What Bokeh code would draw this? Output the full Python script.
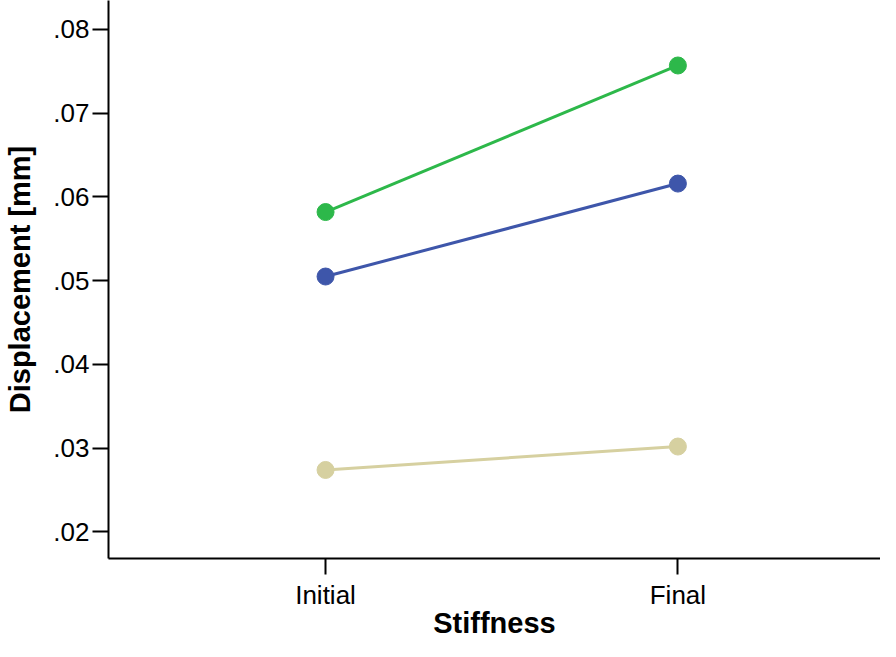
from bokeh.plotting import figure
from bokeh.models import Range1d, FixedTicker, CustomJSTickFormatter
from bokeh.embed import file_html
from bokeh.resources import INLINE

stages = ["Initial", "Final"]
series_green = [0.0582, 0.0757]
series_blue = [0.0505, 0.0616]
series_tan = [0.0274, 0.0302]
y_ticks = [0.02, 0.03, 0.04, 0.05, 0.06, 0.07, 0.08]

colors = {"green": "#2db84a", "blue": "#3e56aa", "tan": "#d6d0a0"}

stage_pos = [i + 1 for i in range(len(stages))]
y_start, y_end = 0.01683, 0.08346

p = figure(
    width=880, height=641,
    x_range=Range1d(0.384, 2.575),
    y_range=Range1d(y_start, y_end),
    output_backend="svg", toolbar_location=None,
    min_border_left=108, min_border_bottom=82, min_border_top=0, min_border_right=0,
)

for key, vals in [("green", series_green), ("blue", series_blue), ("tan", series_tan)]:
    p.line(stage_pos, vals, line_color=colors[key], line_width=3)
    p.scatter(stage_pos, vals, size=17, fill_color=colors[key], line_color=colors[key])

p.xgrid.visible = False
p.ygrid.visible = False
p.outline_line_color = None
p.background_fill_color = "white"
p.border_fill_color = "white"

font = "Liberation Sans"
for ax in (p.xaxis[0], p.yaxis[0]):
    ax.axis_line_color = "black"
    ax.axis_line_width = 2
    ax.major_tick_line_color = "black"
    ax.major_tick_line_width = 2
    ax.major_tick_out = 16
    ax.major_tick_in = 0
    ax.minor_tick_line_color = None
    ax.major_label_text_font = font
    ax.major_label_text_font_size = "26px"
    ax.major_label_text_color = "black"
    ax.axis_label_text_font = font
    ax.axis_label_text_font_size = "29px"
    ax.axis_label_text_font_style = "bold"
    ax.axis_label_text_color = "black"

p.yaxis.ticker = FixedTicker(ticks=y_ticks)
p.yaxis.formatter = CustomJSTickFormatter(code="return tick.toFixed(2).replace(/^0/, '');")
p.yaxis.axis_label = "Displacement [mm]"
p.yaxis.major_label_standoff = 3
p.yaxis.axis_label_standoff = 14

p.xaxis.ticker = FixedTicker(ticks=stage_pos)
p.xaxis.major_label_overrides = {pos: name for pos, name in zip(stage_pos, stages)}
p.xaxis.axis_label = "Stiffness"
p.xaxis.major_label_standoff = 5
p.xaxis.axis_label_standoff = -6

open("out.html", "w").write(file_html(p, INLINE))
